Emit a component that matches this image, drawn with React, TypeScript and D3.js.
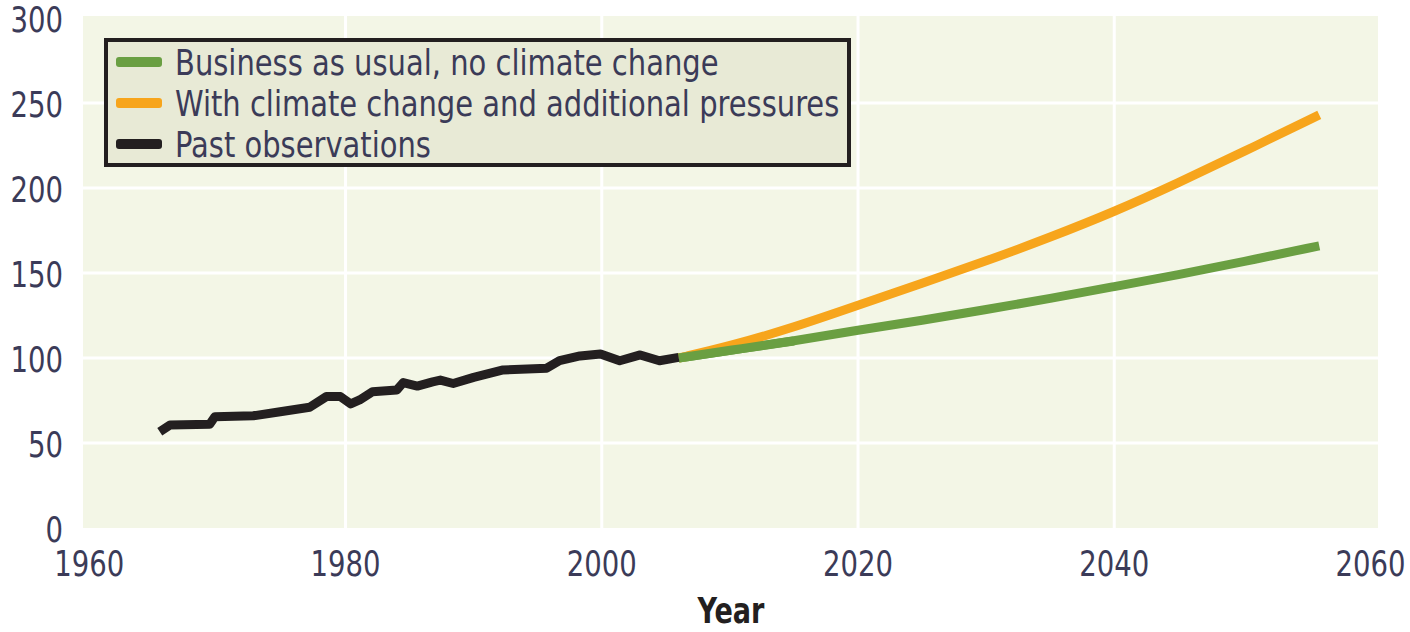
import React from "react";
import * as d3 from "d3";

const yTicks = [0, 50, 100, 150, 200, 250, 300];
const xTicks = [1960, 1980, 2000, 2020, 2040, 2060];

const pastYears = [1965.5, 1966.3, 1969.4, 1969.8, 1972.8, 1974.9, 1977.2, 1978.5, 1979.6, 1980.4, 1981.1, 1982.1, 1984, 1984.5, 1985.6, 1986.8, 1987.4, 1988.4, 1990, 1992.3, 1995.7, 1996.7, 1998.3, 1999.9, 2001.4, 2003, 2004.5, 2006];
const pastValues = [56.6, 60.6, 61, 65.5, 66, 68.4, 71, 77.3, 77.3, 73, 75.3, 80.2, 81.2, 85.5, 83.5, 86, 87, 85, 88.6, 93, 94, 98.4, 101.2, 102.4, 98.4, 101.8, 98.4, 100.4];

const projYears = [2006, 2010, 2015, 2020, 2025, 2030, 2035, 2040, 2045, 2050, 2056];
const bauValues = [100, 104.5, 110, 116.5, 122, 128.5, 135, 142, 149, 156.5, 166];
const climateValues = [100, 107, 118, 131, 144, 157, 171, 186, 203, 221, 243];

const legendLabels = [
  "Business as usual, no climate change",
  "With climate change and additional pressures",
  "Past observations",
];
const legendColors = ["#6a9f42", "#f7a51c", "#231f20"];

const FONT = '"DejaVu Sans Condensed", "Liberation Sans Narrow", sans-serif';

function CText(props: {
  x: number;
  y: number;
  sx: number;
  anchor?: string;
  size: number;
  weight?: string;
  fill: string;
  children: React.ReactNode;
}) {
  const { x, y, sx, anchor, size, weight, fill, children } = props;
  return (
    <g transform={`translate(${x},${y}) scale(${sx},1)`}>
      <text
        x={0}
        y={0}
        textAnchor={anchor || "start"}
        fontFamily={FONT}
        fontSize={size}
        fontWeight={weight || "normal"}
        fill={fill}
      >
        {children}
      </text>
    </g>
  );
}

export default function App() {
  const W = 1410;
  const H = 632;
  const x = d3.scaleLinear().domain([1960, 2060]).range([89.3, 1370.5]);
  const y = d3.scaleLinear().domain([0, 300]).range([528, 18]);

  const line = d3
    .line<[number, number]>()
    .x((d) => x(d[0]))
    .y((d) => y(d[1]));
  const smooth = d3
    .line<[number, number]>()
    .x((d) => x(d[0]))
    .y((d) => y(d[1]))
    .curve(d3.curveBasis);

  const past = pastYears.map((yr, i) => [yr, pastValues[i]] as [number, number]);
  const bau = projYears.map((yr, i) => [yr, bauValues[i]] as [number, number]);
  const clim = projYears.map((yr, i) => [yr, climateValues[i]] as [number, number]);

  const textColor = "#3b3b58";

  return (
    <svg width={W} height={H} style={{ position: "absolute", left: 0, top: 0, background: "#fff" }}>
      <rect x={83} y={16} width={1378 - 83} height={528 - 16} fill="#f3f6e6" />
      {yTicks
        .filter((t) => t > 0 && t < 300)
        .map((t) => (
          <line key={"gy" + t} x1={83} x2={1378} y1={y(t)} y2={y(t)} stroke="#fff" strokeWidth={3} />
        ))}
      {xTicks
        .filter((t) => t > 1960 && t < 2060)
        .map((t) => (
          <line key={"gx" + t} x1={x(t)} x2={x(t)} y1={16} y2={528} stroke="#fff" strokeWidth={3} />
        ))}

      {yTicks.map((t) => (
        <CText key={"ty" + t} x={63} y={y(t) + 14} sx={0.85} anchor="end" size={36} fill={textColor}>
          {t}
        </CText>
      ))}
      {xTicks.map((t) => (
        <CText key={"tx" + t} x={x(t)} y={576} sx={0.85} anchor="middle" size={36} fill={textColor}>
          {t}
        </CText>
      ))}
      <CText x={731} y={623} sx={0.86} anchor="middle" size={35} weight="bold" fill="#231f20">
        Year
      </CText>

      <path d={smooth(bau) || ""} fill="none" stroke={legendColors[0]} strokeWidth={9} />
      <path d={smooth(clim) || ""} fill="none" stroke={legendColors[1]} strokeWidth={9} />
      <path d={smooth(bau.slice(0, 3)) || ""} fill="none" stroke={legendColors[0]} strokeWidth={9} />
      <path d={line(past) || ""} fill="none" stroke={legendColors[2]} strokeWidth={9} strokeLinejoin="round" />

      <rect x={106} y={40} width={743} height={125} fill="#e8eAd6" stroke="#231f20" strokeWidth={4} />
      {legendLabels.map((lab, i) => {
        const cy = 62 + i * 41;
        return (
          <g key={lab}>
            <rect x={116} y={cy - 5} width={46} height={10} rx={3} fill={legendColors[i]} />
            <CText x={175} y={cy + 13} sx={0.895} size={36} fill={textColor}>
              {lab}
            </CText>
          </g>
        );
      })}
    </svg>
  );
}
